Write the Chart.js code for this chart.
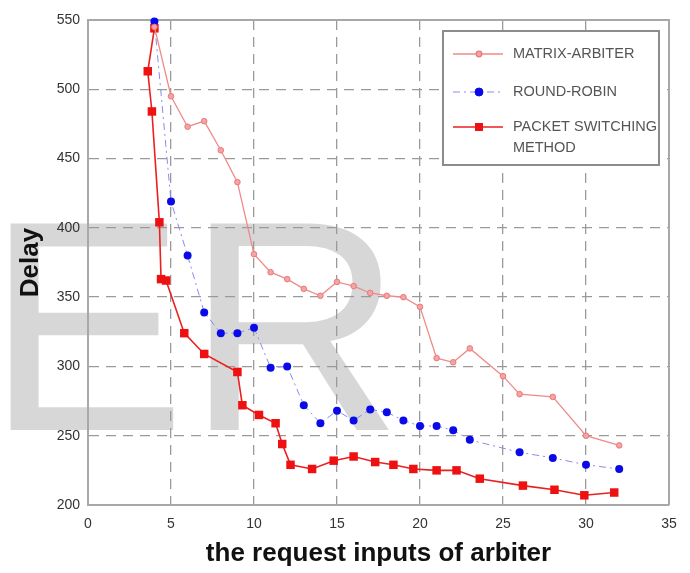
<!DOCTYPE html>
<html>
<head>
<meta charset="utf-8">
<script src="https://cdn.jsdelivr.net/npm/chart.js@4.4.0/dist/chart.umd.min.js"></script>
<style>
  html, body { margin: 0; padding: 0; background: #fff; }
  #wrap { width: 690px; height: 573px; position: relative; }
</style>
</head>
<body>
<div id="wrap"><canvas id="delayChart"></canvas></div>
<script>
// values
const matrixX = [4, 5, 6, 7, 8, 9, 10, 11, 12, 13, 14, 15, 16, 17, 18, 19, 20, 21, 22, 23, 25, 26, 28, 30, 32];
const matrixDelay = [545, 495, 473, 477, 456, 433, 381, 368, 363, 356, 351, 361, 358, 353, 351, 350, 343, 306, 303, 313, 293, 280, 278, 250, 243];

const roundX = [4, 5, 6, 7, 8, 9, 10, 11, 12, 13, 14, 15, 16, 17, 18, 19, 20, 21, 22, 23, 26, 28, 30, 32];
const roundDelay = [549, 419, 380, 339, 324, 324, 328, 299, 300, 272, 259, 268, 261, 269, 267, 261, 257, 257, 254, 247, 238, 234, 229, 226];

const packetX = [4, 3.6, 3.85, 4.3, 4.4, 4.7, 5.8, 7, 9, 9.3, 10.3, 11.3, 11.7, 12.2, 13.5, 14.8, 16, 17.3, 18.4, 19.6, 21, 22.2, 23.6, 26.2, 28.1, 29.9, 31.7];
const packetDelay = [544, 513, 484, 404, 363, 362, 324, 309, 296, 272, 265, 259, 244, 229, 226, 232, 235, 231, 229, 226, 225, 225, 219, 214, 211, 207, 209];

const seriesNames = ['MATRIX-ARBITER', 'ROUND-ROBIN', 'PACKET SWITCHING METHOD'];
const watermarkText = 'ER';

const toPoints = (xs, ys) => xs.map((x, i) => ({ x: x, y: ys[i] }));

// big grey watermark behind the plot
const watermark = {
    id: 'watermark',
    beforeDraw(chart) {
        const ctx = chart.ctx;
        ctx.save();
        ctx.fillStyle = '#fff';
        ctx.fillRect(0, 0, chart.width, chart.height);
        ctx.fillStyle = '#d7d7d7';
        ctx.font = '300px "Liberation Sans", Arial, sans-serif';
        ctx.textBaseline = 'alphabetic';
        ctx.fillText(watermarkText, -14, 430);
        ctx.restore();
    }
};

// top and right edges of the axes box
const plotBox = {
    id: 'plotBox',
    beforeDatasetsDraw(chart) {
        const { ctx, chartArea: a } = chart;
        ctx.save();
        ctx.strokeStyle = '#a8a8a8';
        ctx.lineWidth = 2;
        ctx.beginPath();
        ctx.moveTo(a.left, a.top);
        ctx.lineTo(a.right, a.top);
        ctx.lineTo(a.right, a.bottom);
        ctx.stroke();
        ctx.restore();
    }
};

// boxed legend inside the top right corner
const boxLegend = {
    id: 'boxLegend',
    afterDraw(chart) {
        const ctx = chart.ctx;
        const box = { x: 443, y: 31, w: 216, h: 134 };
        const rowY = [54, 92, 127];
        ctx.save();
        ctx.fillStyle = '#fff';
        ctx.fillRect(box.x, box.y, box.w, box.h);
        ctx.strokeStyle = '#8c8c8c';
        ctx.lineWidth = 2;
        ctx.strokeRect(box.x, box.y, box.w, box.h);

        ctx.font = '14.5px "Liberation Sans", Arial, sans-serif';
        ctx.textBaseline = 'middle';
        chart.data.datasets.forEach((ds, i) => {
            const y = rowY[i];
            ctx.save();
            ctx.strokeStyle = ds.borderColor;
            ctx.lineWidth = ds.borderWidth;
            ctx.setLineDash(ds.borderDash || []);
            ctx.beginPath();
            ctx.moveTo(453, y);
            ctx.lineTo(503, y);
            ctx.stroke();
            ctx.setLineDash([]);
            ctx.fillStyle = ds.pointBackgroundColor;
            ctx.strokeStyle = ds.pointBorderColor;
            Chart.helpers.drawPoint(ctx, {
                pointStyle: ds.pointStyle,
                radius: ds.legendRadius,
                rotation: 0,
                borderWidth: 1
            }, 479, y);
            ctx.restore();

            // wrap long names onto a second line
            const words = ds.label.split(' ');
            const lines = [];
            let cur = '';
            words.forEach(w => {
                const test = cur ? cur + ' ' + w : w;
                if (ctx.measureText(test).width > box.x + box.w - 513 && cur) {
                    lines.push(cur);
                    cur = w;
                } else {
                    cur = test;
                }
            });
            lines.push(cur);
            ctx.fillStyle = '#555';
            lines.forEach((t, k) => ctx.fillText(t, 513, y + k * 21));
        });
        ctx.restore();
    }
};

new Chart(document.getElementById('delayChart'), {
    type: 'line',
    data: {
        datasets: [
            {
                label: seriesNames[0],
                data: toPoints(matrixX, matrixDelay),
                borderColor: '#f08a8a',
                borderWidth: 1.3,
                pointStyle: 'circle',
                pointRadius: 2.8,
                legendRadius: 2.8,
                pointBackgroundColor: '#f4a4a4',
                pointBorderColor: '#e97a7a',
                pointBorderWidth: 1,
                tension: 0
            },
            {
                label: seriesNames[1],
                data: toPoints(roundX, roundDelay),
                borderColor: '#8a8af2',
                borderWidth: 1,
                borderDash: [7, 4, 2, 4],
                pointStyle: 'circle',
                pointRadius: 4,
                legendRadius: 4,
                pointBackgroundColor: '#0a0ae8',
                pointBorderColor: '#0a0ae8',
                pointBorderWidth: 0,
                tension: 0
            },
            {
                label: seriesNames[2],
                data: toPoints(packetX, packetDelay),
                borderColor: '#ec1f1f',
                borderWidth: 1.6,
                pointStyle: 'rect',
                pointRadius: 6,
                legendRadius: 4.5,
                pointBackgroundColor: '#ee1111',
                pointBorderColor: '#ee1111',
                pointBorderWidth: 0,
                tension: 0
            }
        ]
    },
    options: {
        responsive: true,
        maintainAspectRatio: false,
        animation: false,
        clip: false,
        layout: { padding: { top: 20, right: 21, left: 0, bottom: 0 } },
        plugins: {
            legend: { display: false },
            tooltip: { enabled: false }
        },
        scales: {
            x: {
                type: 'linear',
                min: 0,
                max: 35,
                ticks: {
                    stepSize: 5,
                    padding: 11,
                    color: '#333',
                    font: { family: '"Liberation Sans", Arial, sans-serif', size: 14 }
                },
                grid: { color: '#9a9a9a', lineWidth: 1.3, drawTicks: false },
                border: { display: true, color: '#a8a8a8', width: 2, dash: [10, 7] },
                title: {
                    display: true,
                    text: 'the request inputs of arbiter',
                    color: '#111',
                    padding: { top: 0, bottom: 4 },
                    font: { family: '"Liberation Sans", Arial, sans-serif', size: 26, weight: 'bold' }
                },
                afterFit(scale) { scale.height = 68; }
            },
            y: {
                min: 200,
                max: 550,
                ticks: {
                    stepSize: 50,
                    padding: 8,
                    color: '#333',
                    font: { family: '"Liberation Sans", Arial, sans-serif', size: 14 }
                },
                grid: { color: '#9a9a9a', lineWidth: 1.3, drawTicks: false },
                border: { display: true, color: '#a8a8a8', width: 2, dash: [10, 7] },
                title: {
                    display: true,
                    text: 'Delay',
                    color: '#111',
                    padding: { top: 15, bottom: 0 },
                    font: { family: '"Liberation Sans", Arial, sans-serif', size: 26, weight: 'bold' }
                },
                afterFit(scale) { scale.width = 88; }
            }
        }
    },
    plugins: [watermark, plotBox, boxLegend]
});
</script>
</body>
</html>
